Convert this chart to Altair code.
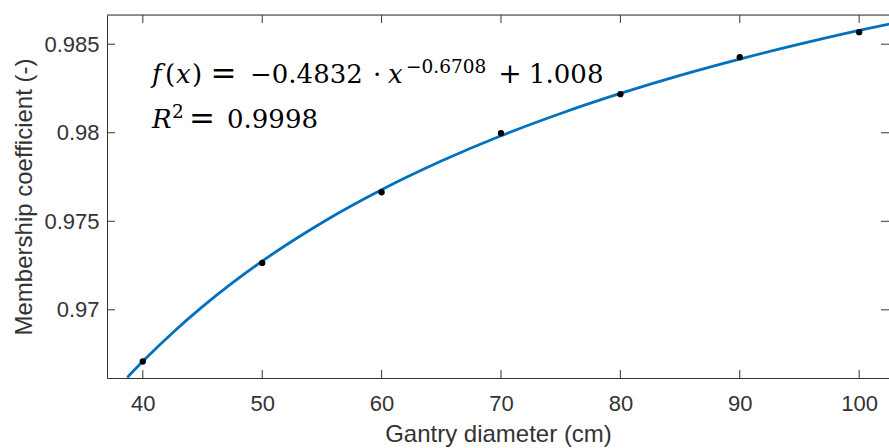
import altair as alt
import pandas as pd

# measured points
diam = [40, 50, 60, 70, 80, 90, 100]
coef = [0.96708, 0.97265, 0.97664, 0.97997, 0.98218, 0.98427, 0.98568]

# fitted curve
fit_x = [38.7, 40, 42.5, 45, 47.5, 50, 55, 60, 65, 70, 75, 80, 85, 90, 95, 100, 102.6]
fit_y = [0.96618, 0.96709, 0.96871, 0.97018, 0.97152, 0.97275, 0.97492, 0.97678,
         0.97840, 0.97983, 0.98109, 0.98222, 0.98324, 0.98416, 0.98500, 0.98578, 0.98615]

x_ticks = [40, 50, 60, 70, 80, 90, 100]
y_ticks = [0.97, 0.975, 0.98, 0.985]

W, H = 782, 363
AX = "#333333"
TL = 8

xs = alt.Scale(domain=[37, 102.5], nice=False, zero=False)
ys = alt.Scale(domain=[0.96615, 0.98665], nice=False, zero=False)

axX = alt.Axis(
    title="Gantry diameter (cm)", values=x_ticks, grid=False, ticks=False, tickSize=0,
    labelPadding=15, titlePadding=8, labelFont="Liberation Sans", titleFont="Liberation Sans",
    labelFontSize=22, titleFontSize=24, titleFontWeight="normal", labelColor=AX, titleColor=AX,
    domainColor=AX, domainWidth=1)
axY = alt.Axis(
    title="Membership coefficient (-)", values=y_ticks, format=".3~f", grid=False, ticks=False, tickSize=0,
    labelPadding=8, titlePadding=7, labelFont="Liberation Sans", titleFont="Liberation Sans",
    labelFontSize=22, titleFontSize=24, titleFontWeight="normal", labelColor=AX, titleColor=AX,
    domainColor=AX, domainWidth=1)

pts = pd.DataFrame({"d": diam, "c": coef})
fit = pd.DataFrame({"d": fit_x, "c": fit_y})
xt = pd.DataFrame({"d": x_ticks})
yt = pd.DataFrame({"c": y_ticks})

X = alt.X("d:Q", scale=xs, axis=axX)
Y = alt.Y("c:Q", scale=ys, axis=axY)

line = alt.Chart(fit).mark_line(color="#0072BD", strokeWidth=2.8, clip=True, interpolate="monotone").encode(
    x=X, y=Y)

dots = alt.Chart(pts).mark_circle(size=40, color="black", opacity=1).encode(x=X, y=Y)

xb = alt.Chart(xt).mark_rule(color=AX, strokeWidth=1).encode(
    x=X, y=alt.value(H - TL), y2=alt.value(H))
xtop = alt.Chart(xt).mark_rule(color=AX, strokeWidth=1).encode(
    x=X, y=alt.value(0), y2=alt.value(TL))
yl = alt.Chart(yt).mark_rule(color=AX, strokeWidth=1).encode(
    y=Y, x=alt.value(0), x2=alt.value(TL))
yr = alt.Chart(yt).mark_rule(color=AX, strokeWidth=1).encode(
    y=Y, x=alt.value(W - TL), x2=alt.value(W))
top = alt.Chart(alt.Data(values=[{}])).mark_rule(color=AX, strokeWidth=1).encode(
    x=alt.value(0), x2=alt.value(W), y=alt.value(0))


def piece(s, x, y, size=26, italic=False, align="left"):
    return alt.Chart(alt.Data(values=[{}])).mark_text(
        text=s, font="DejaVu Serif", fontSize=size, fontStyle="italic" if italic else "normal",
        align=align, baseline="alphabetic", color="black"
    ).encode(x=alt.value(x), y=alt.value(y))


L0, T0 = 107, 15
b1 = 83 - T0
b2 = 128 - T0
texts = [
    piece("f", 152 - L0, b1, italic=True),
    piece("(", 165 - L0, b1),
    piece("x", 176 - L0, b1, italic=True),
    piece(")", 192 - L0, b1),
    piece("=", 223.5 - L0, b1 + 1, size=31, align="center"),
    piece("\u22120.4832", 250 - L0, b1),
    piece("\u00b7", 377 - L0, b1, align="center"),
    piece("x", 388 - L0, b1, italic=True),
    piece("\u22120.6708", 406 - L0, 73 - T0, size=18.5),
    piece("+", 510 - L0, b1, size=28, align="center"),
    piece("1.008", 529 - L0, b1),
    piece("R", 152 - L0, b2, italic=True),
    piece("2", 172 - L0, 118 - T0, size=18.5),
    piece("=", 202 - L0, b2 + 1, size=31, align="center"),
    piece("0.9998", 227 - L0, b2),
]

chart = alt.layer(line, dots, xb, xtop, yl, yr, top, *texts).properties(
    width=W, height=H,
    autosize=alt.AutoSizeParams(type="none"),
    padding={"left": L0, "top": T0, "right": 0, "bottom": 448 - T0 - H},
).configure_view(stroke=None).configure(background="white")

chart.save("out.html", embed_options={"renderer": "svg", "actions": False})
